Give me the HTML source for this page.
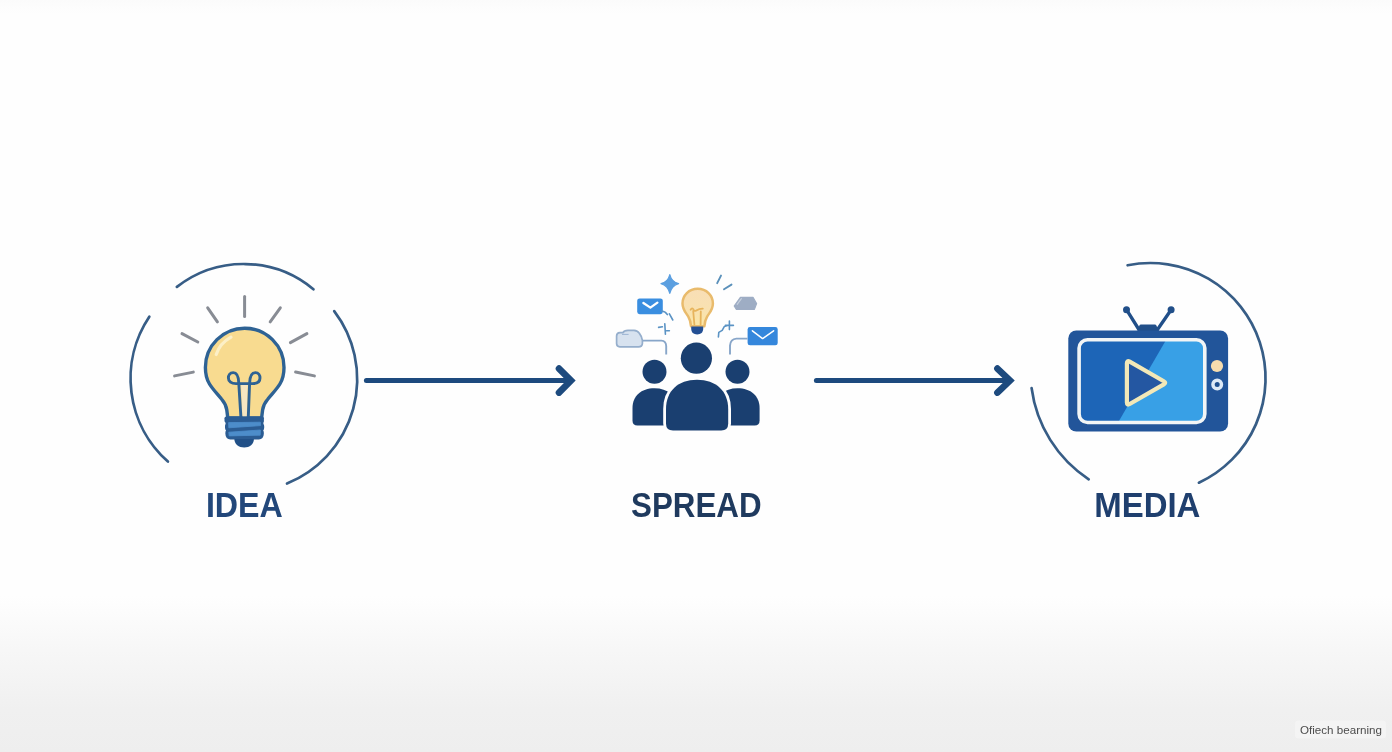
<!DOCTYPE html>
<html>
<head>
<meta charset="utf-8">
<title>Idea Spread Media</title>
<style>
html,body{margin:0;padding:0;width:1392px;height:752px;overflow:hidden;background:#fefefe;font-family:"Liberation Sans",sans-serif;}
#stage{position:absolute;left:0;top:0;width:1392px;height:752px;background:linear-gradient(to bottom,#fbfbfb 0px,#fefefe 14px,#fefefe 596px,#f7f7f7 650px,#f0f0f0 710px,#eeeeee 752px);}
svg{position:absolute;left:0;top:0;}
text{font-family:"Liberation Sans",sans-serif;}
</style>
</head>
<body>
<div id="stage">
<svg width="1392" height="752" viewBox="0 0 1392 752">
<!-- ARCS LEFT -->
<g id="arcsL" fill="none" stroke="#375d86" stroke-width="2.7" stroke-linecap="round">
<path d="M176.9 286.9 A108.8 108.8 0 0 1 313.4 289.3"/>
<path d="M334.2 311.1 A112.5 112.5 0 0 1 287 483.5"/>
<path d="M167.9 461.6 A111.2 111.2 0 0 1 149.3 316.7"/>
<path d="M1127.6 265.3 A115.2 115.2 0 0 1 1198.9 482.7"/>
<path d="M1088.7 479.3 A129.6 129.6 0 0 1 1031.6 388.1"/>
</g>
<!-- BULB -->
<g id="bulb">
<g stroke="#888c94" stroke-width="3" stroke-linecap="round" fill="none">
<path d="M244.6 296.5 L244.6 316.4"/>
<path d="M207.7 307.8 L217.4 321.8"/>
<path d="M280.3 307.8 L270.2 321.8"/>
<path d="M182 333.6 L197.8 342"/>
<path d="M306.9 333.6 L290.4 342.6"/>
<path d="M174.6 375.9 L193.3 372.1"/>
<path d="M314.4 375.9 L295.6 372"/>
</g>
<!-- glass -->
<path d="M244.7 328.2 C266.4 328.2 284 345.7 284 367.4 C284 374 282.9 379 279.9 384 C276.9 389 272.4 393.5 267.9 399 C264.9 402.5 263.2 405.5 262.6 410 L261.6 418 L227.8 418 L226.8 410 C226.2 405.5 224.5 402.5 221.5 399 C217 393.5 212.5 389 209.5 384 C206.5 379 205.4 374 205.4 367.4 C205.4 345.7 223 328.2 244.7 328.2 Z" fill="#f8db90" stroke="#2e6294" stroke-width="3.4" stroke-linejoin="round"/>
<!-- centre light strip -->
<path d="M241.2 385 H247.6 L246.8 416.6 H242.4 Z" fill="#f6e6c2"/>
<!-- highlight -->
<path d="M216.2 354.5 C219 346 225 340.5 231 337.2" fill="none" stroke="#fcefc6" stroke-width="3.2" stroke-linecap="round"/>
<!-- filament -->
<g fill="none" stroke="#2e6294" stroke-width="2.9" stroke-linecap="round" stroke-linejoin="round">
<path d="M240.9 417 L238.8 383.3 C238.6 376 236.6 372.6 233.2 372.6 C229.8 372.6 228.4 375.4 228.4 378 C228.4 381.4 231.4 383.6 236 383.6 H252.6 C257.4 383.6 260 381.4 260 378 C260 375.4 258.6 372.6 255.4 372.6 C252 372.6 249.8 376 249.6 383.3 L248.3 417"/>
</g>
<!-- base -->
<rect x="224.5" y="416.4" width="39.4" height="6.4" rx="1.8" fill="#2b5c93"/>
<path d="M225.6 421 H263.4 V424 Q264.4 425 264.2 427.4 Q264.2 429.6 263.2 430.4 Q264 431.4 263.8 434 Q263.6 439.4 258.8 439.4 H230.4 Q225.6 439.4 225.4 434 Q225.2 431.4 226 430.4 Q225 429.6 225 427.4 Q224.8 425 225.6 424 Z" fill="#2b5c93"/>
<path d="M228.6 422.6 L260.4 422.2 L260.6 425.6 L228.8 427.8 Z" fill="#4d8dca" stroke="#4d8dca" stroke-width="0.8" stroke-linejoin="round"/>
<path d="M228.8 432.2 L260.4 430 L260.2 435.2 L229.2 435.9 Z" fill="#4d8dca" stroke="#4d8dca" stroke-width="0.8" stroke-linejoin="round"/>
<path d="M234.4 439 H253.9 C253.9 444.4 249.6 447.5 244.2 447.5 C238.8 447.5 234.4 444.4 234.4 439 Z" fill="#215087"/>
</g>
<!-- ARROWS -->
<g id="arrows" fill="none" stroke="#1d4a7e" stroke-linecap="round">
<path d="M366.4 380.6 H568" stroke-width="5"/>
<path d="M559 368.6 L571 380.6 L559 392.6" stroke-width="6.6" stroke-linejoin="miter" stroke-miterlimit="6"/>
<path d="M816.4 380.6 H1007" stroke-width="5"/>
<path d="M997.4 368.6 L1010 380.6 L997.4 392.6" stroke-width="6.6" stroke-linejoin="miter" stroke-miterlimit="6"/>
</g>
<!-- SPREAD -->
<g id="spread">
<!-- side people -->
<g fill="#1a3f70">
<circle cx="654.5" cy="371.7" r="12"/>
<circle cx="737.5" cy="371.7" r="12"/>
<path d="M632.5 420.5 V408 C632.5 396 641 388.2 654.5 388.2 C668 388.2 676 396 676 408 V425.5 H637.5 Q632.5 425.5 632.5 420.5 Z"/>
<path d="M759.6 420.5 V408 C759.6 396 751 388.2 737.5 388.2 C724 388.2 716 396 716 408 V425.5 H754.6 Q759.6 425.5 759.6 420.5 Z"/>
</g>
<!-- centre person with white gap -->
<path d="M666 423.6 V409 C666 391 678 379.7 697 379.7 C716 379.7 728.2 391 728.2 409 V423.6 Q728.2 430.6 721.2 430.6 H673 Q666 430.6 666 423.6 Z" fill="#1a3f70" stroke="#fefefe" stroke-width="5.6" paint-order="stroke"/>
<circle cx="696.4" cy="358.2" r="15.6" fill="#1a3f70" stroke="#fefefe" stroke-width="3" paint-order="stroke"/>
<!-- small bulb -->
<defs><linearGradient id="sbg" x1="0" y1="0" x2="0" y2="1"><stop offset="0" stop-color="#f8deb6"/><stop offset="0.55" stop-color="#f9e1b0"/><stop offset="1" stop-color="#fbe7a6"/></linearGradient></defs>
<path d="M697.7 288.8 C706.4 288.8 712.9 295.4 712.9 303.4 C712.9 309.6 709.4 312.8 707 316.8 C705.2 319.8 704.6 322.4 704.4 326.2 H691 C690.8 322.4 690.2 319.8 688.4 316.8 C686 312.8 682.5 309.6 682.5 303.4 C682.5 295.4 689 288.8 697.7 288.8 Z" fill="url(#sbg)" stroke="#e9bb6c" stroke-width="2.5" stroke-linejoin="round"/>
<path d="M694.4 324.5 L693.2 311 M700.6 324.5 L700.8 311.4 M690.6 309.8 Q692.2 307 693.6 309.6 Q694 311.4 696 310.6 L699 309.2 L702.8 308.6" fill="none" stroke="#e7b45c" stroke-width="1.8" stroke-linecap="round" stroke-linejoin="round"/>
<path d="M691.2 326.4 H703.2 V328.6 C703.2 332.6 700.8 334.5 697.2 334.5 C693.6 334.5 691.2 332.6 691.2 328.6 Z" fill="#234f94"/>
<!-- sparkle -->
<path d="M669.8 274.6 Q671.6 282 678.6 283.6 Q671.6 285.6 669.8 293.4 Q668 285.6 661 283.6 Q668 282 669.8 274.6 Z" fill="#5b9fe0" stroke="#5b9fe0" stroke-width="1.2" stroke-linejoin="round"/>
<!-- dashes -->
<path d="M721 275.6 L717.2 283.2 M731.5 284.6 L724 289.2" fill="none" stroke="#5a90ba" stroke-width="1.9" stroke-linecap="round"/>
<!-- envelope left top -->
<rect x="637.2" y="298.4" width="25.6" height="15.8" rx="2.4" fill="#3a8ee0"/>
<path d="M643.4 303 L650.4 307.6 L657.4 302.6" fill="none" stroke="#ffffff" stroke-width="2.3" stroke-linecap="round" stroke-linejoin="round"/>
<!-- envelope right -->
<rect x="747.6" y="327" width="30.1" height="18.3" rx="2.4" fill="#3587dc"/>
<path d="M752.4 330.8 L762.6 338.6 L773.6 330.8" fill="none" stroke="#ffffff" stroke-width="1.5" stroke-linecap="round" stroke-linejoin="round"/>
<!-- gray shape top right -->
<path d="M740.4 297.4 H753 L756.6 303.6 L754.4 309.4 H736.4 L734.2 306 Z" fill="#9eadc4" stroke="#9eadc4" stroke-width="1.2" stroke-linejoin="round"/>
<path d="M737.2 304.4 L741.4 298.6" stroke="#c6d0de" stroke-width="1.1" stroke-linecap="round" fill="none"/>
<!-- light shape left -->
<path d="M623 332.6 Q624 330.4 628 330.4 H634 Q637.6 330.6 639.4 333.4 Q641.6 336 642.4 340.4 V343.4 Q642.2 346.8 638.5 346.8 H619.8 Q616.6 346.8 616.6 343.6 V336 Q616.6 332.8 619.8 332.6 Z" fill="#d7e2ef" stroke="#95aecc" stroke-width="1.7" stroke-linejoin="round"/>
<path d="M622 334.4 H628.6" stroke="#9cb5d3" stroke-width="1" fill="none"/>
<!-- connectors -->
<path d="M642.8 340.6 H661.4 Q666 340.8 666.2 346 V354.4" fill="none" stroke="#88a6c9" stroke-width="1.9"/>
<path d="M747.6 338.6 H736.4 Q730.4 339 730 345.6 V354.4" fill="none" stroke="#88a6c9" stroke-width="1.9"/>
<!-- squiggles -->
<g fill="none" stroke="#5b93c4" stroke-width="1.6" stroke-linecap="round" stroke-linejoin="round">
<path d="M661.6 311 Q665.6 311.4 667.4 314.6 M669.4 313.8 L672.8 320"/>
<path d="M658.6 327.4 L662.4 326.8 M664.8 323.8 L665.4 334.2 M666.6 330.8 H669.4" />
<path d="M718.4 337 L718.8 332.4 L722.2 330.4 L724.4 326.4 L729 325 M729.4 321 V329.6 M725.4 325.4 H733.4"/>
</g>
</g>
<!-- TV -->
<g id="tv">
<defs>
<clipPath id="scr"><rect x="1079.1" y="339.7" width="125.7" height="82.8" rx="8.4"/></clipPath>
</defs>
<!-- antenna -->
<g stroke="#214f89" stroke-width="3.3" stroke-linecap="round" fill="none">
<path d="M1139.2 330 L1126.8 310.2"/>
<path d="M1157.2 330 L1170.8 310.2"/>
</g>
<circle cx="1126.5" cy="309.8" r="3.5" fill="#214f89"/>
<circle cx="1171.1" cy="309.8" r="3.5" fill="#214f89"/>
<path d="M1137.4 331.4 L1139.4 325.6 Q1139.8 324.5 1141 324.5 H1154.8 Q1156 324.5 1156.4 325.6 L1159 331.4 Z" fill="#214f89"/>
<!-- body -->
<rect x="1068.3" y="330.4" width="159.8" height="101.2" rx="8" fill="#22559a"/>
<!-- screen -->
<g clip-path="url(#scr)">
<rect x="1076" y="337" width="133" height="88" fill="#1d65b7"/>
<path d="M1167.2 338 H1210 V424 H1117.2 Z" fill="#38a0e6"/>
</g>
<rect x="1079.1" y="339.7" width="125.7" height="82.8" rx="8.4" fill="none" stroke="#f2f5f6" stroke-width="3.6"/>
<!-- play -->
<path d="M1129.7 361.6 Q1126.9 360.0 1126.9 363.2 L1126.9 402.4 Q1126.9 405.6 1129.7 404.0 L1163.8 384.4 Q1166.6 382.8 1163.8 381.2 Z" fill="#2457a2" stroke="#f2e8b8" stroke-width="4.2" stroke-linejoin="round"/>
<!-- buttons -->
<circle cx="1217" cy="366" r="6.1" fill="#f6dcae"/>
<circle cx="1217.2" cy="384.4" r="4.25" fill="#1f4f8f" stroke="#dde9f6" stroke-width="3.5"/>
</g>
<!-- LABELS -->
<g id="labels" font-weight="bold" font-size="34.7" opacity="0.999">
<text x="205.9" y="516.8" textLength="76.9" lengthAdjust="spacingAndGlyphs" fill="#22477a">IDEA</text>
<text x="631" y="516.8" textLength="130.6" lengthAdjust="spacingAndGlyphs" fill="#1f3a5e">SPREAD</text>
<text x="1094.3" y="516.9" textLength="106.1" lengthAdjust="spacingAndGlyphs" fill="#1f3f6e">MEDIA</text>
<rect x="1295" y="720.5" width="91" height="18" rx="3" fill="#ffffff" opacity="0.3"/>
<text x="1300" y="733.5" font-size="10.5" font-weight="normal" fill="#4c4c4c" textLength="82" lengthAdjust="spacingAndGlyphs">Ofiech bearning</text>
</g>
</svg>
</div>
</body>
</html>
